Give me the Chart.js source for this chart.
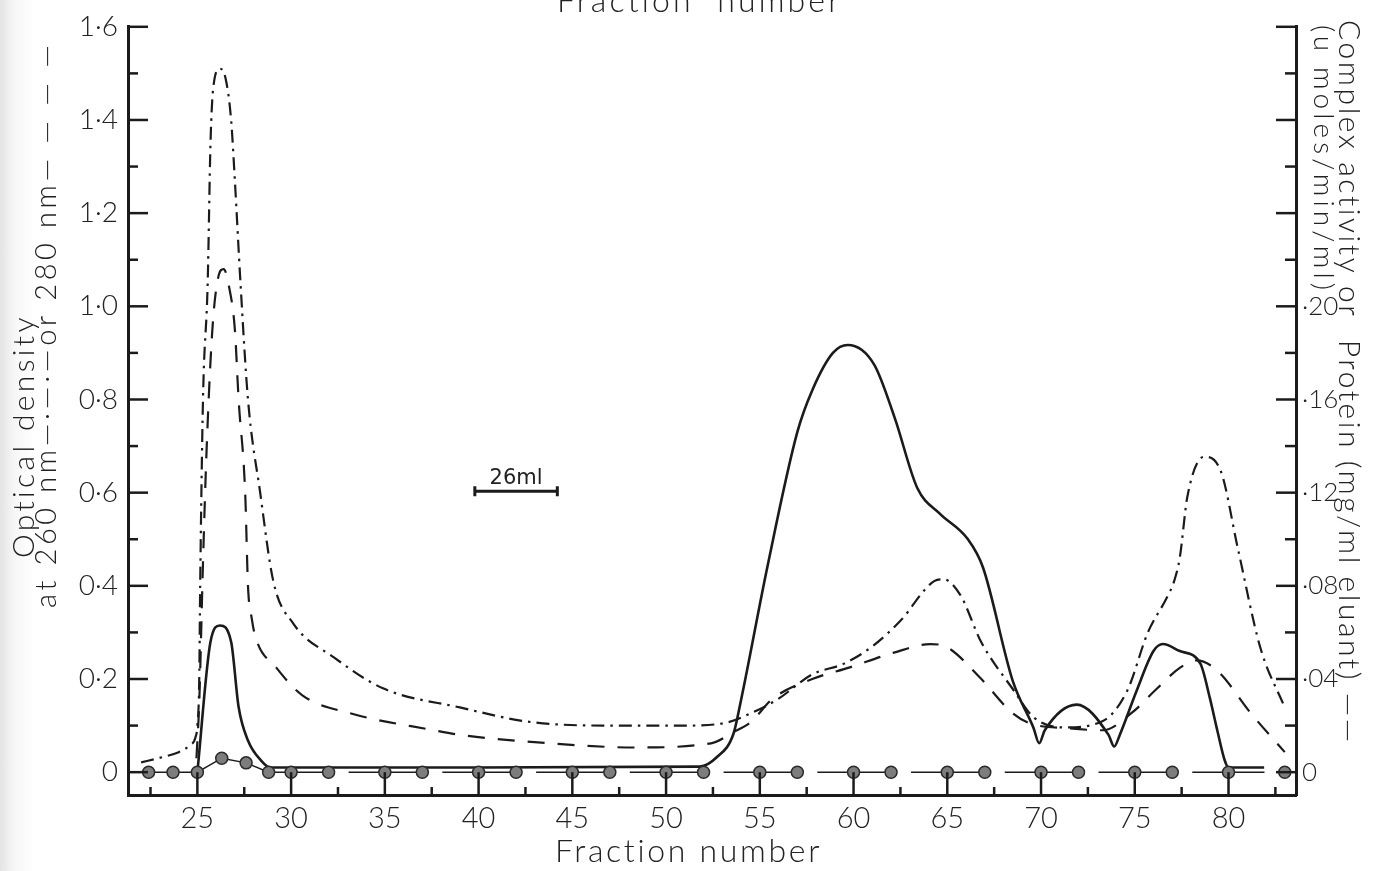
<!DOCTYPE html>
<html>
<head>
<meta charset="utf-8">
<script src="https://cdn.jsdelivr.net/npm/chart.js@4.4.1/dist/chart.umd.min.js"></script>
<style>
  html, body { margin: 0; padding: 0; }
  body { width: 1375px; height: 871px; overflow: hidden;
         background: linear-gradient(to right, #e4e4e4 0px, #f6f6f6 14px, #ffffff 34px); }
  #wrap { position: relative; width: 1375px; height: 871px; }
</style>
</head>
<body>
<div id="wrap"><canvas id="elutionChart"></canvas></div>
<script>
// ---- data ----
// optical density at 260 nm (dash-dot), left axis
const od260X = [22.0, 23.1, 24.0, 24.6, 24.9, 25.0, 25.1, 25.15, 25.3, 25.55, 25.7, 25.85, 26.2, 26.5, 26.8, 27.0, 27.3, 27.7, 28.35, 29.05, 30.1, 32.3, 34.9, 39.0, 42.9, 47.4, 50.9, 53.3, 54.5, 55.9, 57.8, 59.5, 61.0, 62.5, 64.3, 64.8, 65.7, 66.8, 68.5, 69.6, 71.2, 73.3, 74.6, 75.7, 76.7, 77.1, 77.4, 77.8, 78.7, 79.6, 80.5, 81.7, 83.0];
const od260Y = [0.021, 0.032, 0.043, 0.058, 0.075, 0.10, 0.20, 0.40, 0.80, 1.05, 1.35, 1.47, 1.51, 1.49, 1.40, 1.27, 1.05, 0.80, 0.60, 0.41, 0.32, 0.246, 0.18, 0.139, 0.107, 0.10, 0.10, 0.107, 0.126, 0.155, 0.21, 0.233, 0.27, 0.325, 0.41, 0.414, 0.38, 0.28, 0.178, 0.118, 0.096, 0.11, 0.175, 0.30, 0.374, 0.41, 0.46, 0.59, 0.677, 0.645, 0.48, 0.267, 0.139];

// optical density at 280 nm (dashed), left axis
const od280X = [24.95, 25.1, 25.3, 25.5, 25.8, 26.1, 26.4, 26.7, 27.0, 27.2, 27.55, 27.7, 27.9, 28.1, 29.2, 30.6, 33.2, 37.6, 39.0, 43.8, 48.3, 52.4, 53.6, 54.5, 55.7, 57.8, 59.8, 62.1, 64.1, 65.0, 66.7, 68.5, 69.4, 71.5, 73.3, 74.8, 76.2, 77.4, 78.3, 79.4, 81.2, 83.0];
const od280Y = [0.03, 0.15, 0.45, 0.70, 0.95, 1.06, 1.08, 1.04, 0.95, 0.80, 0.60, 0.40, 0.33, 0.29, 0.225, 0.165, 0.126, 0.09, 0.08, 0.062, 0.053, 0.062, 0.086, 0.107, 0.158, 0.20, 0.225, 0.256, 0.275, 0.268, 0.205, 0.126, 0.105, 0.094, 0.09, 0.126, 0.18, 0.224, 0.24, 0.218, 0.126, 0.043];

// complex activity or protein (solid), right axis
const proteinX = [25.0, 25.7, 26.2, 26.8, 27.2, 27.7, 28.4, 28.9, 32.0, 40.0, 51.8, 52.7, 53.6, 54.0, 55.4, 57.0, 57.8, 58.9, 59.7, 61.1, 62.2, 63.4, 64.6, 66.1, 66.9, 68.5, 69.6, 69.9, 70.2, 71.9, 73.6, 73.9, 74.2, 75.1, 76.0, 76.5, 77.4, 78.5, 79.0, 79.4, 79.8, 80.0, 81.9];
const proteinY = [0.0, 0.056, 0.063, 0.056, 0.028, 0.0136, 0.005, 0.002, 0.002, 0.002, 0.0024, 0.0064, 0.0166, 0.031, 0.088, 0.146, 0.164, 0.180, 0.1834, 0.175, 0.152, 0.122, 0.111, 0.100, 0.088, 0.039, 0.019, 0.0124, 0.018, 0.029, 0.016, 0.011, 0.016, 0.035, 0.052, 0.055, 0.052, 0.0466, 0.032, 0.018, 0.005, 0.002, 0.002];

// assay points (circles), right axis
const assayX = [22.4, 23.7, 25, 26.3, 27.6, 28.8, 30, 32, 35, 37, 40, 42, 45, 47, 50, 52, 55, 57, 60, 62, 65, 67, 70, 72, 75, 77, 80, 83];
const assayY = [0, 0, 0, 0.006, 0.004, 0, 0, 0, 0, 0, 0, 0, 0, 0, 0, 0, 0, 0, 0, 0, 0, 0, 0, 0, 0, 0, 0, 0];

// 26 ml volume bar
const scaleBarX = [39.8, 44.2];
const scaleBarY = 0.603;
const scaleBarText = '26ml';

// axes
const xTicks = [25, 30, 35, 40, 45, 50, 55, 60, 65, 70, 75, 80];
const yTicks = [0, 0.2, 0.4, 0.6, 0.8, 1.0, 1.2, 1.4, 1.6];
const y2Ticks = [0, 0.04, 0.08, 0.12, 0.16, 0.20];

const INK = '#1b1b1b';
const FONT = "Lato, 'DejaVu Sans', sans-serif";

const pts = (xs, ys) => xs.map((x, i) => ({ x: x, y: ys[i] }));

function fitText(ctx, text, x, y, angle, width, font) {
    ctx.save();
    ctx.translate(x, y);
    ctx.rotate(angle);
    ctx.font = font;
    ctx.letterSpacing = '0px';
    const w = ctx.measureText(text).width;
    ctx.letterSpacing = ((width - w) / (text.length - 1)) + 'px';
    ctx.textAlign = 'left';
    ctx.textBaseline = 'alphabetic';
    ctx.fillText(text, 0, 0);
    ctx.restore();
}

// inward tick marks, axis titles and the volume bar label
const decorations = {
    id: 'decorations',
    afterDraw(chart) {
        const { ctx, chartArea: a, scales } = chart;
        const zeroY = scales.y.getPixelForValue(0);
        ctx.save();
        ctx.strokeStyle = INK;
        ctx.lineWidth = 2.5;
        const line = (x1, y1, x2, y2) => { ctx.beginPath(); ctx.moveTo(x1, y1); ctx.lineTo(x2, y2); ctx.stroke(); };

        for (let i = 9; i <= 33; i++) {          // every 2.5 fractions
            const px = scales.x.getPixelForValue(i * 2.5);
            line(px, a.bottom, px, i % 2 === 0 ? zeroY : a.bottom - 8);
        }
        for (let i = 0; i <= 16; i++) {          // left axis, every 0.1
            const py = scales.y.getPixelForValue(i / 10);
            line(a.left, py, a.left + (i % 2 === 0 ? 20 : 10), py);
        }
        for (let i = 0; i <= 16; i++) {          // right axis, every 0.02
            const py = scales.y2.getPixelForValue(i * 0.02);
            line(a.right, py, a.right - (i % 2 === 0 ? 20 : 11), py);
        }

        ctx.fillStyle = '#222';
        fitText(ctx, 'Fraction  number', 557, 12, 0, 283, '300 32px ' + FONT);
        fitText(ctx, 'Fraction number', 555, 862, 0, 265, '300 32px ' + FONT);
        fitText(ctx, 'Optical density', 34, 558, -Math.PI / 2, 241, '300 30px ' + FONT);
        fitText(ctx, 'at 260 nm—·—·—or 280 nm— — — —', 56, 608, -Math.PI / 2, 563, '300 29px ' + FONT);
        fitText(ctx, 'Complex activity or  Protein (mg/ml eluant) ——', 1339, 20, Math.PI / 2, 723, '300 30px ' + FONT);
        fitText(ctx, '(u moles/min/ml)', 1314, 25, Math.PI / 2, 265, '300 28px ' + FONT);

        const bx = scales.x.getPixelForValue((scaleBarX[0] + scaleBarX[1]) / 2);
        const by = scales.y.getPixelForValue(scaleBarY);
        ctx.font = "21px 'DejaVu Sans', sans-serif";
        ctx.textAlign = 'center';
        ctx.textBaseline = 'alphabetic';
        ctx.fillText(scaleBarText, bx, by - 7);
        ctx.restore();
    }
};

const gapAfter = new Set([7, 9, 11, 13, 15, 17, 19, 21, 23, 25]);

new Chart(document.getElementById('elutionChart'), {
    type: 'line',
    data: {
        datasets: [
            {
                label: 'Assay',
                data: pts(assayX, assayY),
                yAxisID: 'y2',
                borderColor: INK,
                borderWidth: 1.5,
                pointRadius: 6,
                pointBackgroundColor: '#7d7d7d',
                pointBorderColor: '#2a2a2a',
                pointBorderWidth: 1.5,
                tension: 0,
                segment: {
                    borderDash: c => gapAfter.has(c.p0DataIndex) ? [0, 20, 400, 0]
                        : (c.p0DataIndex === 26 ? [36, 400] : undefined)
                }
            },
            {
                label: 'Complex activity or protein',
                data: pts(proteinX, proteinY),
                yAxisID: 'y2',
                borderColor: INK,
                borderWidth: 2.6,
                pointRadius: 0,
                cubicInterpolationMode: 'monotone'
            },
            {
                label: 'OD 280 nm',
                data: pts(od280X, od280Y),
                yAxisID: 'y',
                borderColor: INK,
                borderWidth: 2.2,
                borderDash: [17, 13],
                pointRadius: 0,
                cubicInterpolationMode: 'monotone'
            },
            {
                label: 'OD 260 nm',
                data: pts(od260X, od260Y),
                yAxisID: 'y',
                borderColor: INK,
                borderWidth: 2.2,
                borderDash: [13, 6, 2.5, 6],
                pointRadius: 0,
                cubicInterpolationMode: 'monotone'
            },
            {
                label: 'Volume',
                data: scaleBarX.map(x => ({ x: x, y: scaleBarY })),
                yAxisID: 'y',
                borderColor: INK,
                borderWidth: 3,
                pointStyle: 'line',
                rotation: 90,
                pointRadius: 5,
                pointBorderWidth: 3,
                pointBorderColor: INK
            }
        ]
    },
    options: {
        responsive: true,
        maintainAspectRatio: false,
        animation: false,
        layout: { padding: { top: 23, left: 0, right: 0, bottom: 0 } },
        plugins: { legend: { display: false }, tooltip: { enabled: false } },
        scales: {
            x: {
                type: 'linear',
                min: 21.3,
                max: 83.6,
                afterBuildTicks: s => { s.ticks = xTicks.map(v => ({ value: v })); },
                afterFit: s => { s.height = 76; },
                grid: { display: false, drawTicks: false },
                border: { display: true, color: INK, width: 3 },
                ticks: {
                    padding: 6,
                    color: '#222',
                    font: { family: FONT, size: 29, weight: '300' },
                    maxRotation: 0,
                    callback: v => String(v)
                }
            },
            y: {
                position: 'left',
                min: -0.049,
                max: 1.6,
                afterBuildTicks: s => { s.ticks = yTicks.map(v => ({ value: v })); },
                afterFit: s => { s.width = 128; },
                grid: { display: false, drawTicks: false },
                border: { display: true, color: INK, width: 3 },
                ticks: {
                    padding: 10,
                    color: '#222',
                    font: { family: FONT, size: 28, weight: '300' },
                    callback: v => v === 0 ? '0' : v.toFixed(1).replace('.', '·')
                }
            },
            y2: {
                position: 'right',
                min: -0.0098,
                max: 0.32,
                afterBuildTicks: s => { s.ticks = y2Ticks.map(v => ({ value: v })); },
                afterFit: s => { s.width = 79; },
                grid: { display: false, drawTicks: false },
                border: { display: true, color: INK, width: 3 },
                ticks: {
                    padding: 6,
                    color: '#222',
                    font: { family: FONT, size: 26, weight: '300' },
                    callback: v => v === 0 ? '0' : '·' + String(Math.round(v * 100)).padStart(2, '0')
                }
            }
        }
    },
    plugins: [decorations]
});
</script>
</body>
</html>
